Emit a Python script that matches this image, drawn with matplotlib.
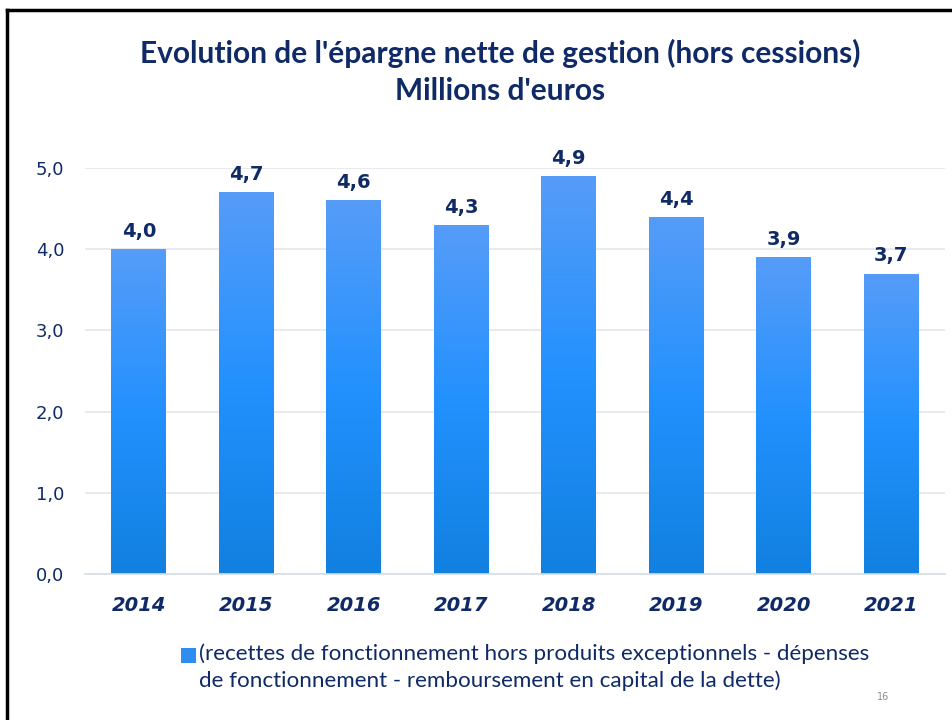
import numpy as np
import matplotlib
matplotlib.use("Agg")
import matplotlib.pyplot as plt
from matplotlib.colors import LinearSegmentedColormap
from matplotlib.patches import Rectangle
from matplotlib.lines import Line2D

annees = ["2014", "2015", "2016", "2017", "2018", "2019", "2020", "2021"]
epargne = [4.0, 4.7, 4.6, 4.3, 4.9, 4.4, 3.9, 3.7]
graduations = [0, 1, 2, 3, 4, 5]

navy = "#0F2A66"
degrade = LinearSegmentedColormap.from_list("deg", ["#1180E0", "#2391FE", "#569CF8"])

fig = plt.figure(figsize=(9.53, 7.2), dpi=100)
ax = fig.add_axes([0.0892, 0.2028, 0.9024, 0.5639])

x = np.arange(len(annees))
largeur = 0.51
barres = ax.bar(x, epargne, width=largeur, color="none", zorder=2)

# degrade vertical dans chaque barre
grad = np.linspace(0, 1, 256).reshape(-1, 1)
for b in barres:
    x0, y0 = b.get_x(), b.get_y()
    w, h = b.get_width(), b.get_height()
    im = ax.imshow(grad, cmap=degrade, origin="lower", aspect="auto",
                   extent=[x0, x0 + w, y0, y0 + h], zorder=2)
    im.set_clip_path(b)

for xi, v in zip(x, epargne):
    ax.text(xi, v + 0.1, f"{v:.1f}".replace(".", ","), ha="center", va="bottom",
            fontsize=14, fontweight="bold", color=navy, family="DejaVu Sans")

ax.set_xlim(-0.5, len(annees) - 0.5)
ax.set_ylim(0, 5)
ax.set_yticks(graduations)
ax.set_yticklabels([f"{g:.1f}".replace(".", ",") for g in graduations],
                   fontsize=13, color=navy, family="DejaVu Sans")
ax.set_xticks(x)
ax.set_xticklabels(annees, fontsize=14, fontweight="bold", fontstyle="italic",
                   color=navy, family="DejaVu Sans")
ax.tick_params(axis="both", length=0)
ax.tick_params(axis="x", pad=16)
ax.tick_params(axis="y", pad=15)
ax.grid(axis="y", color="#E4E6EE", linewidth=1.2, zorder=0)
ax.set_axisbelow(True)
for s in ["top", "right", "left"]:
    ax.spines[s].set_visible(False)
ax.spines["bottom"].set_color("#D6DEE8")
ax.spines["bottom"].set_linewidth(1.2)

fig.text(0.525, 0.926, "Evolution de l'épargne nette de gestion (hors cessions)",
         ha="center", va="center", fontsize=21.5, fontweight="bold", color=navy, family="Lato")
fig.text(0.525, 0.873, "Millions d'euros", ha="center", va="center",
         fontsize=21.5, fontweight="bold", color=navy, family="Lato")

# legende
fig.patches.append(Rectangle((181 / 953, 1 - 663 / 720), 15 / 953, 15 / 720,
                             transform=fig.transFigure, facecolor="#2F8CF0", edgecolor="none"))
fig.text(199 / 953, 1 - 643 / 720,
         "(recettes de fonctionnement hors produits exceptionnels - dépenses\nde fonctionnement - remboursement en capital de la dette)",
         ha="left", va="top", fontsize=16.1, color=navy, family="Lato", linespacing=1.4)

fig.text(883 / 953, 1 - 697 / 720, "16", ha="center", va="center", fontsize=7, color="#8C8C8C")

# cadre
fig.add_artist(Line2D([7 / 953, 7 / 953], [0, 1 - 10 / 720], transform=fig.transFigure,
                      color="black", linewidth=2.5))
fig.add_artist(Line2D([7 / 953, 1], [1 - 10 / 720, 1 - 10 / 720], transform=fig.transFigure,
                      color="black", linewidth=2.5))

fig.savefig("out.png", dpi=100)
